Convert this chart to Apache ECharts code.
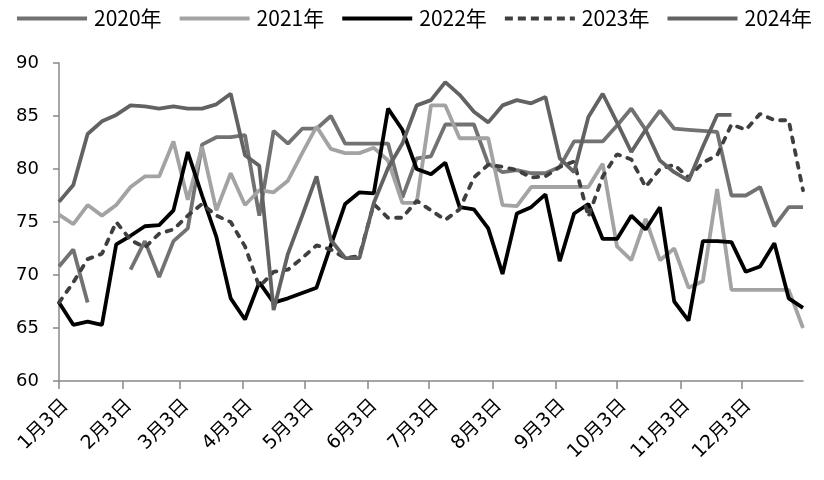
<!DOCTYPE html>
<html>
<head>
<meta charset="utf-8">
<script src="https://cdn.jsdelivr.net/npm/echarts@6/dist/echarts.min.js"></script>
<style>html,body{margin:0;padding:0;background:#fff}#c{width:824px;height:480px}</style>
</head>
<body>
<div id="c"></div>
<script>
// Weekly observations, first week = 1月3日 (53 weeks)
const seriesNames = ['2020年', '2021年', '2022年', '2023年', '2024年'];
const tickLabels = ['1月3日','2月3日','3月3日','4月3日','5月3日','6月3日','7月3日','8月3日','9月3日','10月3日','11月3日','12月3日'];

const values2020 = [70.8,72.4,67.4,null,null,70.5,73.2,69.8,73.2,74.4,82.3,83.0,83.0,83.2,75.6,83.6,82.4,83.8,83.8,85.0,82.4,82.4,82.4,82.4,77.3,81.0,81.2,84.2,84.2,84.2,80.5,79.7,79.9,79.6,79.6,80.2,82.6,82.6,82.6,84.1,85.7,83.7,85.5,83.8,83.7,83.6,83.5,77.5,77.5,78.3,74.6,76.4,76.4];
const values2021 = [75.7,74.8,76.6,75.6,76.6,78.3,79.3,79.3,82.6,77.1,82.1,76.1,79.6,76.6,78.0,77.8,78.9,81.5,84.0,81.9,81.5,81.5,82.0,80.8,76.8,76.8,86.0,86.0,82.9,82.9,82.9,76.6,76.5,78.3,78.3,78.3,78.3,78.3,80.5,72.7,71.4,75.3,71.4,72.5,68.8,69.4,78.1,68.6,68.6,68.6,68.6,68.6,65.0];
const values2022 = [67.4,65.3,65.6,65.3,72.9,73.7,74.6,74.7,76.1,81.6,77.5,73.6,67.8,65.8,69.3,67.4,67.8,68.3,68.8,72.8,76.7,77.8,77.7,85.7,83.7,80.0,79.5,80.6,76.4,76.2,74.4,70.1,75.8,76.4,77.6,71.3,75.8,76.7,73.4,73.4,75.6,74.3,76.4,67.5,65.7,73.2,73.2,73.1,70.3,70.8,73.0,67.8,66.9];
const values2023 = [67.4,69.3,71.5,72.0,75.0,73.3,72.6,73.9,74.3,75.6,76.7,75.6,75.0,72.7,68.9,70.3,70.5,71.6,72.8,72.4,71.6,71.8,76.7,75.4,75.4,77.0,76.1,75.2,76.2,79.2,80.4,80.2,79.9,79.2,79.3,80.2,80.7,75.5,79.3,81.4,80.9,78.3,80.0,80.4,79.2,80.6,81.3,84.2,83.7,85.2,84.6,84.6,78.0];
const values2024 = [76.9,78.5,83.3,84.5,85.1,86.0,85.9,85.7,85.9,85.7,85.7,86.1,87.1,81.3,80.3,66.7,72.0,75.6,79.3,73.3,71.6,71.6,76.8,80.1,82.4,86.0,86.5,88.2,87.0,85.4,84.4,86.0,86.5,86.2,86.8,81.0,79.7,84.9,87.1,84.4,81.6,83.7,80.8,79.7,78.9,82.1,85.1,85.1];

// daily category axis from 1月3日 through the following 1月2日
const categories = [];
for (let d = new Date(2021, 0, 3); categories.length < 365; d.setDate(d.getDate() + 1)) {
  categories.push((d.getMonth() + 1) + '月' + d.getDate() + '日');
}
const weekly = arr => arr.map((v, i) => [i * 7, v]);

const colors = ['#727272', '#a3a3a3', '#000000', '#3f3f3f', '#626262'];
const allValues = [values2020, values2021, values2022, values2023, values2024];
const isTick = (idx, val) => tickLabels.indexOf(val) >= 0;
const FONT = 'DejaVu Sans, Noto Sans CJK SC, sans-serif';
const SOLID_ICON = 'path://M0,0H70V4H0Z';
const DASH_ICON = 'path://M0,0H8V4H0Z M13,0H21V4H13Z M26,0H34V4H26Z M39,0H47V4H39Z M52,0H60V4H52Z M65,0H70V4H65Z';

const chart = echarts.init(document.getElementById('c'), null, {renderer: 'canvas'});
chart.setOption({
  animation: false,
  backgroundColor: '#ffffff',
  color: colors,
  legend: {
    left: 17, top: 8, padding: 0, width: 807,
    itemWidth: 70, itemHeight: 4, itemGap: 18,
    textStyle: {fontFamily: 'Noto Sans CJK SC, sans-serif', fontSize: 21, color: '#000', padding: [0, 0, 0, 2]},
    data: seriesNames.map((n, k) => ({name: n, icon: k === 3 ? DASH_ICON : SOLID_ICON}))
  },
  grid: {left: 59, right: 21, top: 63, height: 318, containLabel: false},
  xAxis: {
    type: 'category',
    data: categories,
    boundaryGap: false,
    axisLine: {show: true, lineStyle: {color: '#888888', width: 1.5}},
    axisTick: {show: true, interval: isTick, length: 8, lineStyle: {color: '#888888', width: 1.5}},
    axisLabel: {interval: isTick, rotate: 45, margin: 15, verticalAlign: 'top', fontSize: 19, fontFamily: FONT, color: '#000'},
    splitLine: {show: false}
  },
  yAxis: {
    type: 'value', min: 60, max: 90, interval: 5,
    axisLine: {show: true, lineStyle: {color: '#888888', width: 1.5}},
    axisTick: {show: true, length: 6, lineStyle: {color: '#888888', width: 1.5}},
    axisLabel: {fontSize: 18, fontFamily: FONT, color: '#000', margin: 20},
    splitLine: {show: false}
  },
  series: seriesNames.map((name, k) => ({
    name: name,
    type: 'line',
    data: weekly(allValues[k]),
    symbol: 'none',
    showSymbol: false,
    connectNulls: false,
    lineStyle: k === 3
      ? {width: 3.8, color: colors[k], type: [5, 8], cap: 'round'}
      : {width: 3.8, color: colors[k]},
    z: 2 + k
  }))
});
</script>
</body>
</html>
